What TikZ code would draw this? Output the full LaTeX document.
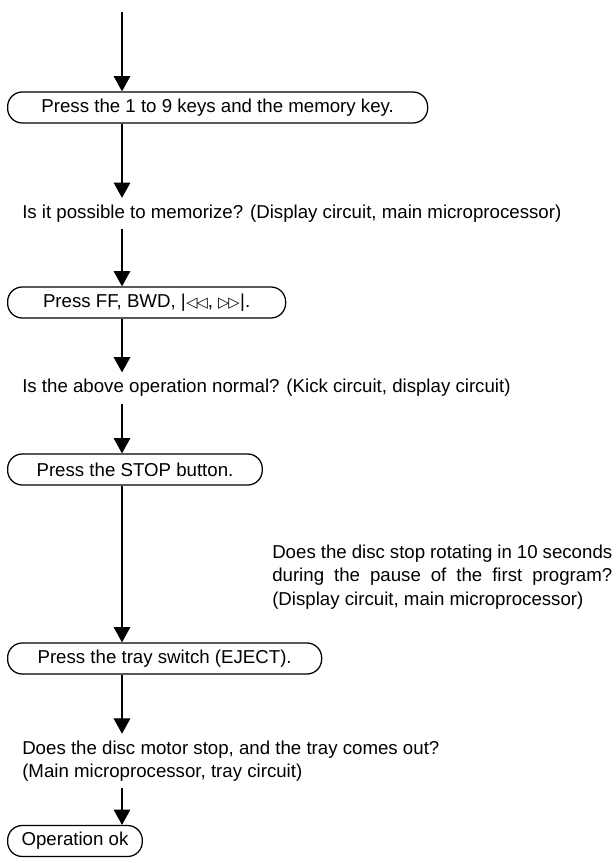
\documentclass[tikz,border=0pt]{standalone}
\usepackage{fontspec}
\setmainfont{Liberation Sans}
\newfontfamily\symfont{DejaVu Sans}
\usetikzlibrary{arrows.meta}

% track skip marks used on the search keys
\newcommand{\prevtrack}{|\kern0.4pt{\symfont\fontsize{11}{11}\selectfont ◁\kern-0.8pt◁}}
\newcommand{\nexttrack}{{\symfont\fontsize{11}{11}\selectfont ▷\kern-0.8pt▷}\kern0.4pt|}

\begin{document}
\begin{tikzpicture}[x=0.75pt,y=0.75pt,yscale=-1,
  font=\fontsize{14}{17.5}\selectfont,
  pressbox/.style={draw, line width=0.95pt, rounded corners=11pt, minimum height=23.25pt, inner xsep=0pt, inner ysep=0pt, anchor=west},
  checktext/.style={anchor=west, inner xsep=0pt, inner ysep=5pt, align=left},
  flow/.style={line width=0.8pt, -{Triangle[length=11.5pt,width=12.5pt]}}]
\useasboundingbox (0,0) rectangle (615,862);

%Free start of the main line
\coordinate (spine) at (122,12);

% Operation boxes
\node [pressbox, minimum width=315pt] (keys) at (7,107.5) {Press the 1 to 9 keys and the memory key.};
\node [pressbox, minimum width=208.5pt] (search) at (7,302.5) {Press FF, BWD, \prevtrack, \nexttrack.};
\node [pressbox, minimum width=191pt] (stop) at (7,469.5) {Press the STOP button.};
\node [pressbox, minimum width=235.5pt] (eject) at (7,658.5) {Press the tray switch (EJECT).};
\node [pressbox, minimum width=101pt] (done) at (7,841) {Operation ok};

% Check texts
\node [checktext] (memq) at (22,213.5) {Is it possible to memorize? (Display circuit, main microprocessor)};
\node [checktext] (normq) at (22,388) {Is the above operation normal? (Kick circuit, display circuit)};
\node [checktext, text width=255pt, align=justify] (pauseq) at (272,577) {Does the disc stop rotating in 10 seconds\linebreak during the pause of the first program?\linebreak (Display circuit, main microprocessor)};
\node [checktext] (trayq) at (22,761) {Does the disc motor stop, and the tray comes out?\\(Main microprocessor, tray circuit)};

% Main line
\draw [flow] (spine) -- (keys.north -| spine);
\draw [flow] (keys.south -| spine) -- (memq.north -| spine);
\draw [flow] (memq.south -| spine) -- (search.north -| spine);
\draw [flow] (search.south -| spine) -- (normq.north -| spine);
\draw [flow] (normq.south -| spine) -- (stop.north -| spine);
\draw [flow] (stop.south -| spine) -- (eject.north -| spine);
\draw [flow] (eject.south -| spine) -- (trayq.north -| spine);
\draw [flow] (trayq.south -| spine) -- (done.north -| spine);

\end{tikzpicture}
\end{document}
